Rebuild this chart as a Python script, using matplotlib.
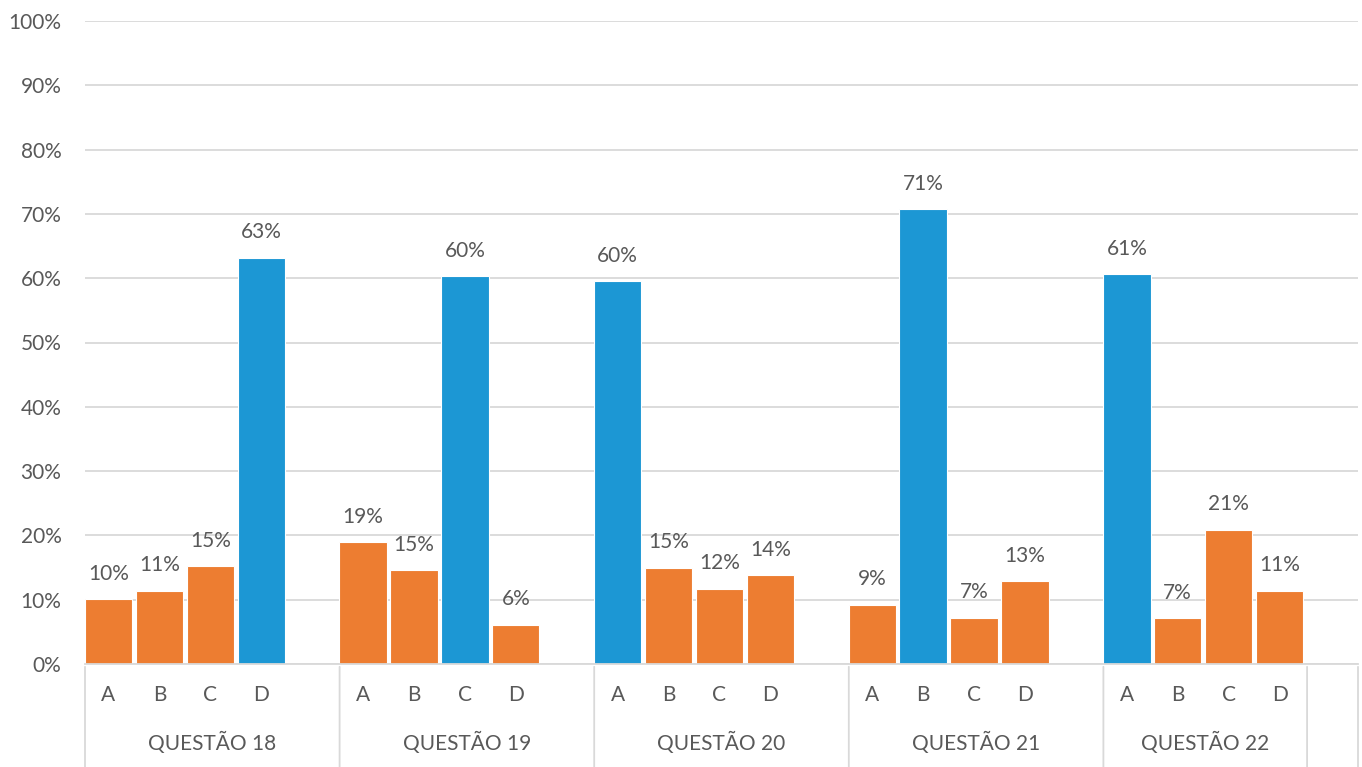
import numpy as np
import matplotlib.pyplot as plt

# Data
questions = ['QUESTÃO 18', 'QUESTÃO 19', 'QUESTÃO 20', 'QUESTÃO 21', 'QUESTÃO 22']
options = ['A', 'B', 'C', 'D']
q18 = [0.101, 0.114, 0.152, 0.632]
q19 = [0.189, 0.146, 0.603, 0.061]
q20 = [0.595, 0.150, 0.117, 0.138]
q21 = [0.092, 0.707, 0.072, 0.129]
q22 = [0.606, 0.071, 0.209, 0.114]
correct = ['D', 'C', 'A', 'B', 'A']
values = [q18, q19, q20, q21, q22]

ORANGE = '#ED7D31'
BLUE = '#1C97D4'
TEXT = '#595959'
GRID = '#D9D9D9'
FS = 15

plt.rcParams['font.family'] = ['Lato', 'DejaVu Sans']

W, H = 1362, 767
fig = plt.figure(figsize=(W / 100, H / 100), dpi=100)
x0, x1, ytop, ybot = 85, 1358, 21, 664
ax = fig.add_axes([x0 / W, 1 - ybot / H, (x1 - x0) / W, (ybot - ytop) / H])

slots_per_group = 5
n_slots = slots_per_group * len(questions)
ax.set_xlim(0, n_slots)
ax.set_ylim(0, 1)

for g, vals in enumerate(values):
    for i, v in enumerate(vals):
        pos = g * slots_per_group + i + 0.46
        col = BLUE if options[i] == correct[g] else ORANGE
        ax.bar(pos, v, width=0.93, color=col, edgecolor='white', linewidth=0.8, zorder=3)
        ax.text(pos, v + 0.024, f'{round(v * 100):.0f}%', ha='center', va='bottom',
                fontsize=FS, color=TEXT, zorder=4)
        # option letter under the bar
        ax.annotate(options[i], xy=(pos, 0), xycoords=('data', 'axes fraction'),
                    xytext=(0, -31), textcoords='offset pixels', ha='center', va='center',
                    fontsize=FS, color=TEXT, annotation_clip=False)
    # last group has no trailing blank slot under its label
    mid = g * slots_per_group + (2.5 if g < len(questions) - 1 else 2)
    ax.annotate(questions[g], xy=(mid, 0), xycoords=('data', 'axes fraction'),
                xytext=(0, -79), textcoords='offset pixels', ha='center', va='center',
                fontsize=FS, color=TEXT, annotation_clip=False)

# group separator lines below the axis
seps = [g * slots_per_group for g in range(len(questions))] + [n_slots - 1, n_slots]
for s in seps:
    ax.annotate('', xy=(s, 0), xycoords=('data', 'axes fraction'),
                xytext=(s, -0.17), textcoords=('data', 'axes fraction'),
                arrowprops=dict(arrowstyle='-', color=GRID, lw=1.3), annotation_clip=False)

ticks = np.arange(0, 1.01, 0.1)
ax.set_yticks(ticks)
ax.set_yticklabels([f'{int(round(t * 100))}%' for t in ticks])
ax.tick_params(axis='y', length=0, pad=17, labelsize=FS, labelcolor=TEXT)
ax.set_xticks([])
ax.yaxis.grid(True, color=GRID, linewidth=1.3, zorder=0)
for side in ['top', 'right', 'left']:
    ax.spines[side].set_visible(False)
ax.spines['bottom'].set_color(GRID)
ax.spines['bottom'].set_linewidth(1.3)
ax.spines['bottom'].set_zorder(5)

fig.savefig('out.png', dpi=100)
